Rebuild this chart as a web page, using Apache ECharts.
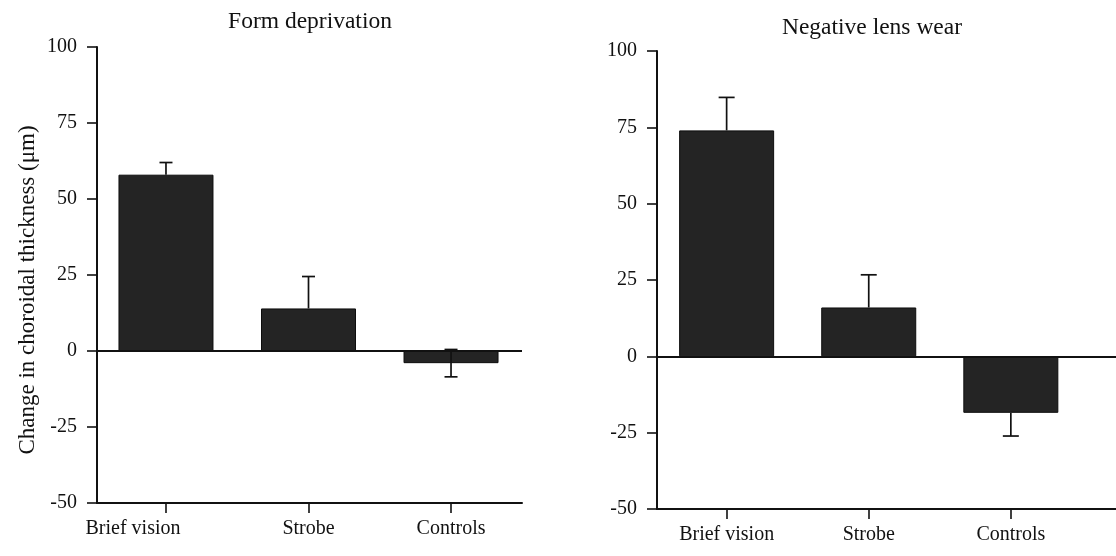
<!DOCTYPE html>
<html>
<head>
<meta charset="utf-8">
<script src="https://cdn.jsdelivr.net/npm/echarts@6/dist/echarts.min.js"></script>
<style>
html,body{margin:0;padding:0;background:#fff;}
#chart{width:1116px;height:556px;}
</style>
</head>
<body>
<div id="chart"></div>
<script>
const categories = ['Brief vision', 'Strobe', 'Controls'];
const catPos = [0, 1, 2];
const panelTitles = ['Form deprivation', 'Negative lens wear'];
const yAxisName = 'Change in choroidal thickness (\u03bcm)';
const yTicks = [-50, -25, 0, 25, 50, 75, 100];

const formMean = [58, 14, -4];
const formErrUp = [4, 10.5, 4.5];
const formErrDown = [0, 0, 4.5];

const lensMean = [74, 16, -18.5];
const lensErrUp = [10.8, 10.7, 0];
const lensErrDown = [0, 0, 7.6];

const FONT = '"Liberation Serif", "DejaVu Serif", serif';
const INK = '#111';
const BAR = '#242424';

const chart = echarts.init(document.getElementById('chart'));

function errRender(half) {
  return function (params, api) {
    const x = api.value(0), m = api.value(1), up = api.value(2), dn = api.value(3);
    const top = api.coord([x, m + up]);
    const bot = api.coord([x, m - dn]);
    const style = { stroke: INK, lineWidth: 1.7 };
    const children = [{ type: 'line', shape: { x1: top[0], y1: top[1], x2: bot[0], y2: bot[1] }, style }];
    if (up > 0) children.push({ type: 'line', shape: { x1: top[0] - half, y1: top[1], x2: top[0] + half, y2: top[1] }, style });
    if (dn > 0) children.push({ type: 'line', shape: { x1: bot[0] - half, y1: bot[1], x2: bot[0] + half, y2: bot[1] }, style });
    return { type: 'group', children };
  };
}

function xAxisFor(gridIndex, min, max, shiftFirst) {
  return {
    type: 'value', gridIndex, min, max,
    splitLine: { show: false },
    axisLine: { show: true, onZero: false, lineStyle: { color: INK, width: 2 } },
    axisTick: { show: true, customValues: catPos, length: 10, lineStyle: { color: INK, width: 1.6 } },
    axisLabel: {
      customValues: catPos, margin: 16, color: INK, fontFamily: FONT, fontSize: 20,
      formatter: v => {
        const name = categories[Math.round(v)];
        return (shiftFirst && Math.round(v) === 0) ? '{s|' + name + '}' : name;
      },
      rich: { s: { fontFamily: FONT, fontSize: 20, color: INK, padding: [0, 66, 0, 0] } }
    }
  };
}

function yAxisFor(gridIndex, withName) {
  return {
    type: 'value', gridIndex, min: yTicks[0], max: yTicks[yTicks.length - 1], interval: 25,
    splitLine: { show: false },
    axisLine: { show: true, onZero: false, lineStyle: { color: INK, width: 2 } },
    axisTick: { show: true, length: 10, lineStyle: { color: INK, width: 1.6 } },
    axisLabel: { margin: 20, color: INK, fontFamily: FONT, fontSize: 20 },
    name: withName ? yAxisName : '',
    nameLocation: 'middle', nameRotate: 90, nameGap: 58,
    nameTextStyle: { color: INK, fontFamily: FONT, fontSize: 23, padding: [0, 0, 0, -30] }
  };
}

function pairs(pos, vals) { return pos.map((p, i) => [p, vals[i]]); }
function errData(pos, m, u, d) { return pos.map((p, i) => [p, m[i], u[i], d[i]]); }

function panelSeries(idx, mean, up, dn, half) {
  return [
    {
      type: 'bar', xAxisIndex: idx, yAxisIndex: idx, barWidth: 95,
      data: pairs(catPos, mean),
      itemStyle: { color: BAR, borderColor: '#0d0d0d', borderWidth: 1 },
      markLine: {
        silent: true, symbol: 'none', label: { show: false },
        lineStyle: { color: INK, width: 2, type: 'solid' },
        data: [{ yAxis: 0 }]
      },
      z: 2
    },
    {
      type: 'custom', xAxisIndex: idx, yAxisIndex: idx,
      renderItem: errRender(half),
      encode: { x: 0, y: 1 },
      data: errData(catPos, mean, up, dn),
      z: 3
    }
  ];
}

chart.setOption({
  backgroundColor: '#fff',
  animation: false,
  title: [
    { text: panelTitles[0], left: 305, top: 5, textAlign: 'center',
      textStyle: { fontFamily: FONT, fontSize: 23.5, fontWeight: 'normal', color: INK } },
    { text: panelTitles[1], left: 867, top: 11, textAlign: 'center',
      textStyle: { fontFamily: FONT, fontSize: 23.5, fontWeight: 'normal', color: INK } }
  ],
  grid: [
    { left: 97, top: 47, width: 425, height: 456 },
    { left: 657, top: 51, right: 0, height: 458 }
  ],
  xAxis: [xAxisFor(0, -0.484, 2.498, true), xAxisFor(1, -0.49, 2.74, false)],
  yAxis: [yAxisFor(0, true), yAxisFor(1, false)],
  series: [].concat(
    panelSeries(0, formMean, formErrUp, formErrDown, 6.5),
    panelSeries(1, lensMean, lensErrUp, lensErrDown, 8)
  )
});
</script>
</body>
</html>
